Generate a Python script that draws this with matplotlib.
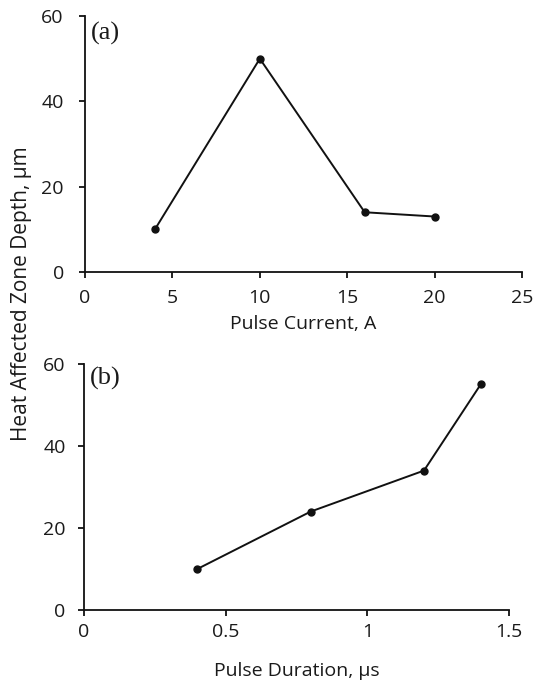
import matplotlib
matplotlib.use("Agg")
import matplotlib.pyplot as plt

current_A = [4, 10, 16, 20]
haz_current = [10, 50, 14, 13]
duration_us = [0.4, 0.8, 1.2, 1.4]
haz_duration = [10, 24, 34, 55]

x1_ticks = [0, 5, 10, 15, 20, 25]
x2_ticks = [0, 0.5, 1, 1.5]
x2_labels = ["0", "0.5", "1", "1.5"]
y_ticks = [0, 20, 40, 60]

plt.rcParams['font.family'] = ['Open Sans', 'DejaVu Sans']
fig = plt.figure(figsize=(5.36, 6.82), dpi=100)
ax1 = fig.add_axes([0.1586, 0.6012, 0.974 - 0.1586, 0.9765 - 0.6012])
ax2 = fig.add_axes([0.1567, 0.1056, 0.9496 - 0.1567, 0.4663 - 0.1056])

col = '#111111'
tcol = '#1a1a1a'
for ax, x, y, xt, xl, xlim, xlabel, tag, tagy, ypad, xpad, lpad in [
    (ax1, current_A, haz_current, x1_ticks, [str(t) for t in x1_ticks], (0, 25),
     'Pulse Current, A', '(a)', 0.93, 11, 8, 6),
    (ax2, duration_us, haz_duration, x2_ticks, x2_labels, (0, 1.5),
     'Pulse Duration, µs', '(b)', 0.943, 9, 5, 15),
]:
    ax.plot(x, y, color=col, lw=1.4, marker='o', ms=5, mfc=col, mec=col)
    ax.set_xlim(*xlim)
    ax.set_ylim(0, 60)
    ax.set_xticks(xt)
    ax.set_xticklabels(xl)
    ax.set_yticks(y_ticks)
    for s in ['top', 'right']:
        ax.spines[s].set_visible(False)
    for s in ['left', 'bottom']:
        ax.spines[s].set_linewidth(1.3)
        ax.spines[s].set_color(col)
    ax.tick_params(axis='both', direction='out', length=4.3, width=1.3, color=col,
                   labelsize=14, labelcolor=tcol)
    ax.tick_params(axis='y', pad=ypad)
    ax.tick_params(axis='x', pad=xpad)
    ax.set_xlabel(xlabel, fontsize=14, color=tcol, labelpad=lpad)
    ax.text(0.014, tagy, tag, transform=ax.transAxes, fontsize=19,
            family='Liberation Serif', color=tcol, va='center', ha='left')

fig.text(0.04, 0.5697, 'Heat Affected Zone Depth, µm', rotation=90, fontsize=15,
         color=tcol, ha='center', va='center')

fig.savefig('out.png', dpi=100)
